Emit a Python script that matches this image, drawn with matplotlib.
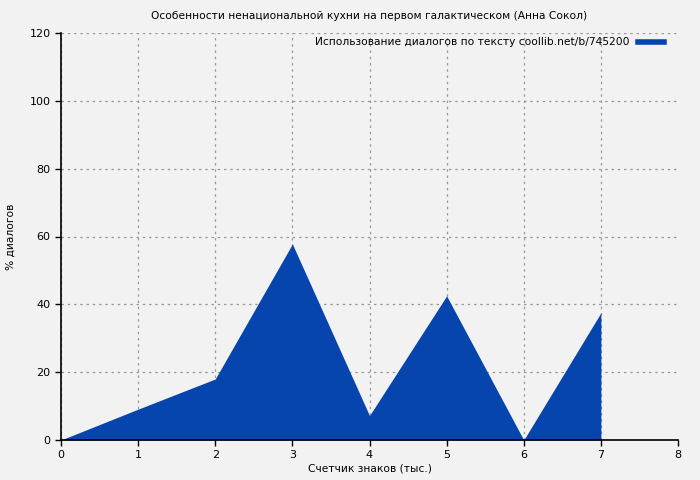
import matplotlib
matplotlib.use("Agg")
import matplotlib.pyplot as plt
from matplotlib.lines import Line2D

x_vals = [0, 1, 2, 3, 4, 5, 6, 7]
dialog_pct = [0, 9.1, 18.0, 57.8, 7.2, 42.5, 0, 37.5]
x_ticks = [0, 1, 2, 3, 4, 5, 6, 7, 8]
y_ticks = [0, 20, 40, 60, 80, 100, 120]

title = "Особенности ненациональной кухни на первом галактическом (Анна Сокол)"
legend_label = "Использование диалогов по тексту coollib.net/b/745200"
xlabel = "Счетчик знаков (тыс.)"
ylabel = "% диалогов"

bg = "#f2f2f2"
fill_color = "#0645ad"

fig = plt.figure(figsize=(7, 4.8), dpi=100, facecolor=bg)
ax = fig.add_axes([61/700, 1-440/480, (678-61)/700, (440-33)/480])
ax.set_facecolor(bg)

ax.fill_between(x_vals, dialog_pct, 0, color=fill_color, linewidth=0, label=legend_label)

ax.set_xlim(0, 8)
ax.set_ylim(0, 120)
ax.set_xticks(x_ticks)
ax.set_yticks(y_ticks)
ax.tick_params(labelsize=8, direction="out", length=4, width=1)
ax.grid(True, linestyle=(0, (2, 3)), color="#999999", linewidth=0.9)
ax.set_axisbelow(True)
ax.xaxis.get_gridlines()[-1].set_visible(False)
for s in ["top", "right"]:
    ax.spines[s].set_visible(False)
for s in ["left", "bottom"]:
    ax.spines[s].set_linewidth(1.2)

fig.text(369 / 700, 1 - 16 / 480, title, fontsize=7.7, ha="center", va="center")
ax.set_xlabel(xlabel, fontsize=7.7, labelpad=2)
ax.set_ylabel(ylabel, fontsize=7.7, labelpad=10)

handle = Line2D([0], [0], color=fill_color, linewidth=4)
ax.legend([handle], [legend_label], loc="upper right", frameon=False, fontsize=7.7,
          markerfirst=False, handlelength=2.5, borderaxespad=0.0,
          bbox_to_anchor=(0.985, 1.0))

fig.savefig("out.png", dpi=100, facecolor=bg)
